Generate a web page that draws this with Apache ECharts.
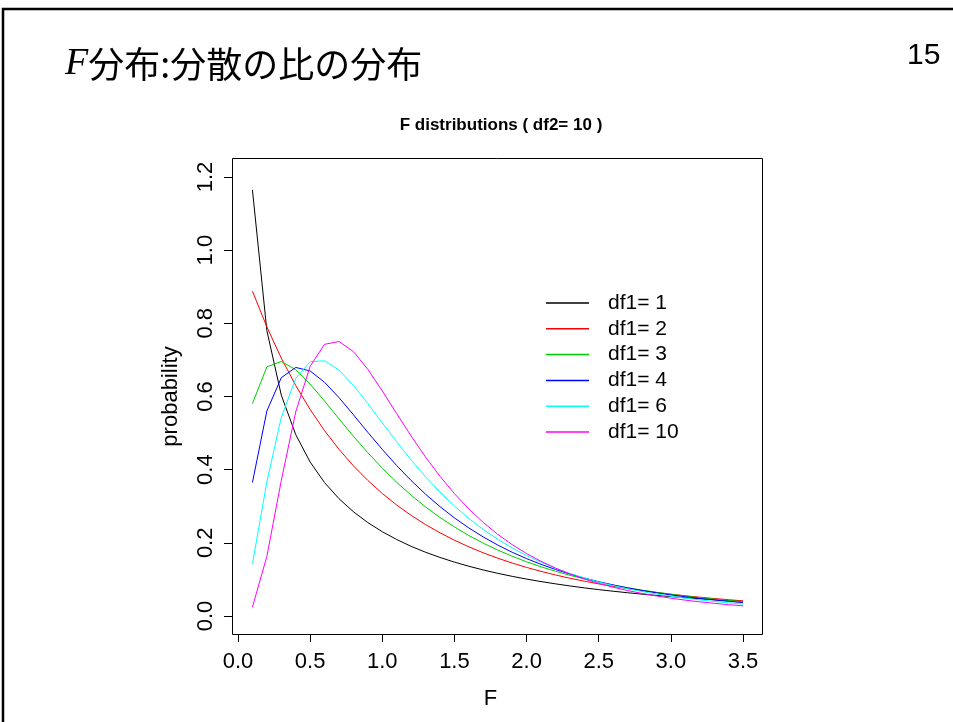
<!DOCTYPE html>
<html>
<head>
<meta charset="utf-8">
<script src="https://cdn.jsdelivr.net/npm/echarts@6/dist/echarts.min.js"></script>
<style>
  html, body { margin: 0; padding: 0; background: #fff; }
  #main { width: 953px; height: 722px; }
</style>
</head>
<body>
<div id="main"></div>
<script>
// F values (x axis)
const xs = [0.1, 0.2, 0.3, 0.4, 0.5, 0.6, 0.7, 0.8, 0.9, 1.0, 1.1, 1.2, 1.3, 1.4, 1.5, 1.6, 1.7, 1.8,
  1.9, 2.0, 2.1, 2.2, 2.3, 2.4, 2.5, 2.6, 2.7, 2.8, 2.9, 3.0, 3.1, 3.2, 3.3, 3.4, 3.5];

// density values, df2 = 10
const df1_1 = [1.1649, 0.7803, 0.6038, 0.4959, 0.4208, 0.3646, 0.3206, 0.2849, 0.2553, 0.2304, 0.2090, 0.1904,
  0.1743, 0.1600, 0.1473, 0.1360, 0.1258, 0.1167, 0.1084, 0.1009, 0.0941, 0.0879, 0.0822, 0.0769, 0.0721,
  0.0677, 0.0636, 0.0598, 0.0563, 0.0531, 0.0500, 0.0472, 0.0446, 0.0422, 0.0399];
const df1_2 = [0.8880, 0.7903, 0.7050, 0.6302, 0.5645, 0.5066, 0.4556, 0.4104, 0.3704, 0.3349, 0.3033, 0.2751,
  0.2499, 0.2274, 0.2072, 0.1890, 0.1727, 0.1580, 0.1448, 0.1328, 0.1220, 0.1122, 0.1032, 0.0952, 0.0878,
  0.0811, 0.0750, 0.0694, 0.0643, 0.0596, 0.0553, 0.0514, 0.0478, 0.0445, 0.0414];
const df1_3 = [0.5804, 0.6810, 0.6957, 0.6734, 0.6340, 0.5875, 0.5390, 0.4914, 0.4462, 0.4041, 0.3654, 0.3302,
  0.2982, 0.2693, 0.2434, 0.2200, 0.1990, 0.1802, 0.1633, 0.1482, 0.1346, 0.1223, 0.1113, 0.1014, 0.0925,
  0.0845, 0.0772, 0.0707, 0.0648, 0.0594, 0.0545, 0.0501, 0.0461, 0.0425, 0.0392];
const df1_4 = [0.3648, 0.5602, 0.6514, 0.6794, 0.6698, 0.6389, 0.5969, 0.5500, 0.5020, 0.4554, 0.4112, 0.3703,
  0.3328, 0.2989, 0.2682, 0.2407, 0.2160, 0.1940, 0.1743, 0.1568, 0.1412, 0.1272, 0.1148, 0.1037, 0.0938,
  0.0849, 0.0770, 0.0698, 0.0635, 0.0577, 0.0526, 0.0480, 0.0438, 0.0400, 0.0366];
const df1_6 = [0.1423, 0.3664, 0.5430, 0.6492, 0.6951, 0.6976, 0.6721, 0.6305, 0.5806, 0.5281, 0.4760, 0.4264,
  0.3804, 0.3384, 0.3005, 0.2666, 0.2365, 0.2098, 0.1862, 0.1654, 0.1470, 0.1308, 0.1165, 0.1040, 0.0929,
  0.0831, 0.0744, 0.0669, 0.0601, 0.0541, 0.0487, 0.0440, 0.0397, 0.0360, 0.0326];
const df1_10 = [0.0243, 0.1628, 0.3702, 0.5576, 0.6828, 0.7426, 0.7503, 0.7227, 0.6742, 0.6152, 0.5530, 0.4919,
  0.4343, 0.3817, 0.3344, 0.2925, 0.2556, 0.2233, 0.1951, 0.1707, 0.1495, 0.1311, 0.1151, 0.1013, 0.0892,
  0.0787, 0.0696, 0.0617, 0.0547, 0.0487, 0.0433, 0.0387, 0.0346, 0.0310, 0.0278];

const seriesNames = ['df1= 1', 'df1= 2', 'df1= 3', 'df1= 4', 'df1= 6', 'df1= 10'];
const seriesValues = [df1_1, df1_2, df1_3, df1_4, df1_6, df1_10];
const seriesColors = ['#000000', '#ff0000', '#00cd00', '#0000ff', '#00ffff', '#ff00ff'];

const xTicks = { min: 0, max: 3.5, step: 0.5 };
const yTicks = { min: 0, max: 1.2, step: 0.2 };

const font = 'Liberation Sans, Arial, sans-serif';

const chartDom = document.getElementById('main');
const myChart = echarts.init(chartDom, null, { renderer: 'canvas' });

const series = seriesNames.map(function (name, i) {
  return {
    name: name,
    type: 'line',
    data: xs.map(function (x, j) { return [x, seriesValues[i][j]]; }),
    showSymbol: false,
    symbol: 'none',
    clip: false,
    lineStyle: { color: seriesColors[i], width: 1 },
    itemStyle: { color: seriesColors[i] },
    emphasis: { disabled: true },
    z: 2
  };
});

const option = {
  animation: false,
  backgroundColor: '#ffffff',
  title: [
    {
      text: '{f|F}{t|分布:分散の比の分布}',
      left: 60, top: 40,
      textStyle: {
        fontWeight: 'normal',
        rich: {
          f: { fontFamily: 'Liberation Serif, serif', fontStyle: 'italic', fontWeight: 'normal', fontSize: 38, color: '#000' },
          t: { fontFamily: 'Noto Sans CJK JP', fontWeight: 'normal', fontSize: 36, color: '#000' }
        }
      }
    },
    {
      text: '15',
      left: 902, top: 36,
      textStyle: { fontFamily: font, fontSize: 30, fontWeight: 'normal', color: '#000' }
    },
    {
      text: 'F distributions ( df2= 10 )',
      left: 496, top: 112, textAlign: 'center',
      textStyle: { fontFamily: font, fontSize: 17, fontWeight: 'bold', color: '#000' }
    }
  ],
  legend: {
    data: seriesNames.map(function (n, i) {
      return { name: n, icon: 'rect', itemStyle: { color: seriesColors[i] } };
    }),
    orient: 'vertical',
    left: 541, top: 287,
    itemWidth: 43, itemHeight: 1.5,
    itemGap: 3.8,
    selectedMode: false,
    textStyle: { fontFamily: font, fontSize: 21, color: '#000', lineHeight: 22, padding: [0, 0, 0, 14] }
  },
  grid: { left: 238, top: 177, width: 505, height: 439 },
  xAxis: {
    type: 'value',
    min: xTicks.min, max: xTicks.max, interval: xTicks.step,
    offset: 18,
    name: 'F', nameLocation: 'middle', nameGap: 54,
    nameTextStyle: { fontFamily: font, fontSize: 22, color: '#000' },
    axisLine: { show: true, onZero: false, lineStyle: { color: '#000', width: 1 } },
    axisTick: { show: true, inside: false, length: 8, lineStyle: { color: '#000' } },
    axisLabel: {
      margin: 17, fontFamily: font, fontSize: 22, color: '#000',
      formatter: function (v) { return v.toFixed(1); }
    },
    splitLine: { show: false }
  },
  yAxis: {
    type: 'value',
    min: yTicks.min, max: yTicks.max, interval: yTicks.step,
    offset: 6,
    name: 'probability', nameLocation: 'middle', nameGap: 50, nameRotate: 90,
    nameTextStyle: { fontFamily: font, fontSize: 22, color: '#000' },
    axisLine: { show: true, onZero: false, lineStyle: { color: '#000', width: 1 } },
    axisTick: { show: true, inside: false, length: 8, lineStyle: { color: '#000' } },
    axisLabel: {
      margin: 15, rotate: 90, fontFamily: font, fontSize: 22, color: '#000',
      formatter: function (v) { return v.toFixed(1); }
    },
    splitLine: { show: false }
  },
  graphic: [
    {
      // slide frame
      type: 'rect', silent: true,
      shape: { x: 3, y: 9, width: 1000, height: 800 },
      style: { fill: 'none', stroke: '#000', lineWidth: 2.5 }
    },
    {
      // plot box
      type: 'rect', silent: true,
      shape: { x: 232.5, y: 158.5, width: 530, height: 476 },
      style: { fill: 'none', stroke: '#000', lineWidth: 1 }
    }
  ],
  series: series
};

option && myChart.setOption(option);
</script>
</body>
</html>
